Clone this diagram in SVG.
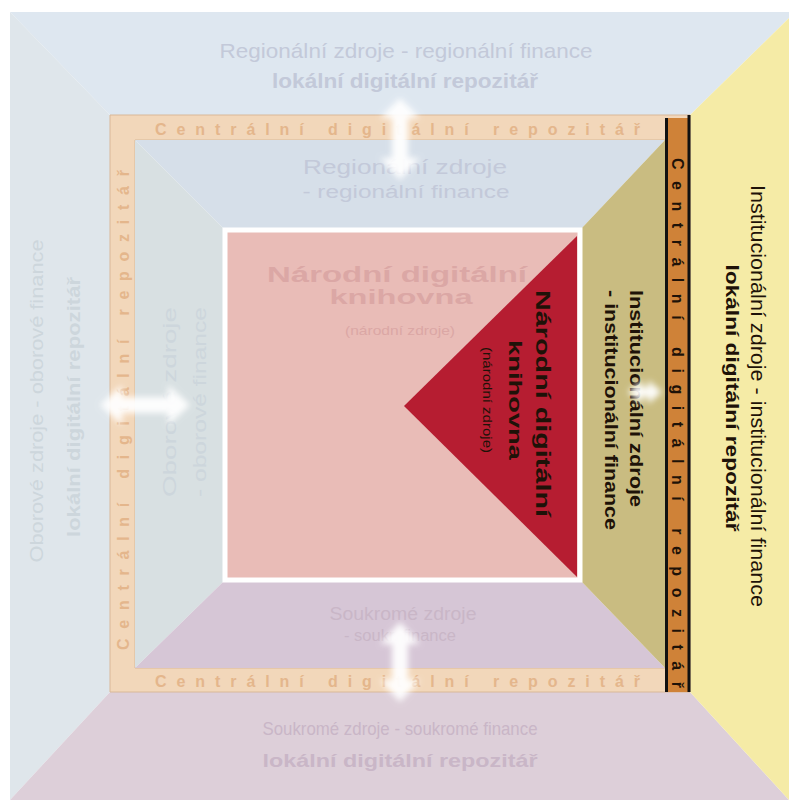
<svg xmlns="http://www.w3.org/2000/svg" width="789" height="800" viewBox="0 0 789 800">
<defs>
<style>
text{font-family:"Liberation Sans","Arial",sans-serif}
.b{font-weight:bold}
.mid{text-anchor:middle}
.fadeT{fill:#c3c9d9}
.fadeB{fill:#c9b6c7}
.fadeL{fill:#cdd6dc}
.fadeP{fill:#dba7a5}
.band{fill:#e4b68c;font-weight:bold;font-size:16px}
.dark{fill:#1e1208}
</style>
<filter id="blur" x="-50%" y="-50%" width="200%" height="200%"><feGaussianBlur stdDeviation="3"/></filter>
</defs>
<rect width="789" height="800" fill="#ffffff"/>

<g id="outer-top">
<polygon points="10,12 789,12 789,18 690,115 110,115" fill="#dee7f0"/>
<text class="mid fadeT" x="406" y="58" font-size="21" textLength="373" lengthAdjust="spacingAndGlyphs">Regionální zdroje - regionální finance</text>
<text class="mid fadeT b" x="405" y="88" font-size="20" textLength="266" lengthAdjust="spacingAndGlyphs">lokální digitální repozitář</text>
</g>
<g id="outer-left">
<polygon points="10,12 110,115 110,692 10,800" fill="#dfe6eb"/>
<text class="mid fadeL" transform="translate(43,401) rotate(-90)" font-size="19" textLength="323" lengthAdjust="spacingAndGlyphs">Oborové zdroje - oborové finance</text>
<text class="mid fadeL b" transform="translate(80,407) rotate(-90)" font-size="19" textLength="260" lengthAdjust="spacingAndGlyphs">lokální digitální repozitář</text>
</g>
<g id="outer-bottom">
<polygon points="110,692 690,692 789,800 10,800" fill="#ddcfd9"/>
<text class="mid fadeB" x="400" y="735" font-size="19" textLength="275" lengthAdjust="spacingAndGlyphs">Soukromé zdroje - soukromé finance</text>
<text class="mid fadeB b" x="400" y="767" font-size="19" textLength="275" lengthAdjust="spacingAndGlyphs">lokální digitální repozitář</text>
</g>
<g id="outer-right">
<polygon points="690,115 789,18 789,800 690,692" fill="#f5eba6"/>
<text class="mid dark" transform="translate(751,396) rotate(90)" font-size="20" textLength="422" lengthAdjust="spacingAndGlyphs">Institucionální zdroje - institucionální finance</text>
<text class="mid dark b" transform="translate(726,398) rotate(90)" font-size="19" textLength="267" lengthAdjust="spacingAndGlyphs">lokální digitální repozitář</text>
</g>

<g id="central-repository">
<path d="M110,115 H690 V692 H110 Z M135,140 V668 H665 V140 Z" fill="#f2d7ba" fill-rule="evenodd" stroke="#d9b898" stroke-width="1"/>
<text class="band" x="155" y="135" textLength="485">Centrální digitální repozitář</text>
<text class="band" x="155" y="687" textLength="485">Centrální digitální repozitář</text>
<text class="band" transform="translate(129,650) rotate(-90)" textLength="480">Centrální digitální repozitář</text>
<rect x="665" y="118" width="25" height="574" fill="#cf8238"/>
<line x1="666.5" y1="118" x2="666.5" y2="692" stroke="#111" stroke-width="3"/>
<line x1="689" y1="115" x2="689" y2="692" stroke="#111" stroke-width="3"/>
<text class="band dark" transform="translate(672,158) rotate(90)" textLength="530">Centrální digitální repozitář</text>
</g>

<g id="inner-top">
<polygon points="135,140 665,140 580,230 225,230" fill="#d6dfe9"/>
<text class="mid fadeT" x="405" y="174" font-size="20" textLength="204" lengthAdjust="spacingAndGlyphs">Regionální zdroje</text>
<text class="mid fadeT" x="406" y="198" font-size="18" textLength="207" lengthAdjust="spacingAndGlyphs">- regionální finance</text>
</g>
<g id="inner-left">
<polygon points="135,140 225,230 225,580 135,668" fill="#d8e0e2"/>
<text class="mid fadeL" transform="translate(176,402) rotate(-90)" font-size="18" textLength="190" lengthAdjust="spacingAndGlyphs">Oborové zdroje</text>
<text class="mid fadeL" transform="translate(206,402) rotate(-90)" font-size="18" textLength="190" lengthAdjust="spacingAndGlyphs">- oborové finance</text>
</g>
<g id="inner-bottom">
<polygon points="225,580 580,580 665,668 135,668" fill="#d6c6d6"/>
<text class="mid fadeB" x="403" y="620" font-size="18" textLength="147" lengthAdjust="spacingAndGlyphs">Soukromé zdroje</text>
<text class="mid fadeB" x="400" y="641" font-size="16" textLength="112" lengthAdjust="spacingAndGlyphs">- soukr. finance</text>
</g>
<g id="inner-right">
<polygon points="580,230 665,140 665,668 580,580" fill="#c9bc81"/>
<text class="dark b" transform="translate(630,290) rotate(90)" font-size="18" textLength="217" lengthAdjust="spacingAndGlyphs">Institucionální zdroje</text>
<text class="dark b" transform="translate(605,290) rotate(90)" font-size="18" textLength="240" lengthAdjust="spacingAndGlyphs">- institucionální finance</text>
</g>

<g id="national-library">
<rect x="225" y="230" width="355" height="350" fill="#e9bcb7" stroke="#ffffff" stroke-width="5"/>
<text class="mid fadeP b" x="397" y="282" font-size="22" textLength="260" lengthAdjust="spacingAndGlyphs">Národní digitální</text>
<text class="mid fadeP b" x="401" y="304" font-size="20" textLength="143" lengthAdjust="spacingAndGlyphs">knihovna</text>
<text class="mid fadeP" x="400" y="335" font-size="13" textLength="110" lengthAdjust="spacingAndGlyphs">(národní zdroje)</text>
<polygon points="577,236 577,577 404,406" fill="#b61d31"/>
<text class="dark b" transform="translate(536,290) rotate(90)" font-size="21" textLength="227" lengthAdjust="spacingAndGlyphs">Národní digitální</text>
<text class="mid dark b" transform="translate(509,400) rotate(90)" font-size="19" textLength="120" lengthAdjust="spacingAndGlyphs">knihovna</text>
<text class="mid dark" transform="translate(483,400) rotate(90)" font-size="13" textLength="106" lengthAdjust="spacingAndGlyphs">(národní zdroje)</text>
</g>

<g id="connectors" fill="#ffffff" filter="url(#blur)" opacity="0.95">
<polygon points="400,98 420,118 408,118 408,158 420,158 400,180 380,158 392,158 392,118 380,118"/>
<polygon points="400,622 420,644 408,644 408,680 420,680 400,702 380,680 392,680 392,644 380,644"/>
<polygon points="100,405 122,385 122,397 168,397 168,385 190,405 168,425 168,413 122,413 122,425"/>
<polygon points="628,392 642,380 642,387 648,387 648,380 662,392 648,404 648,397 642,397 642,404"/>
</g>
</svg>
